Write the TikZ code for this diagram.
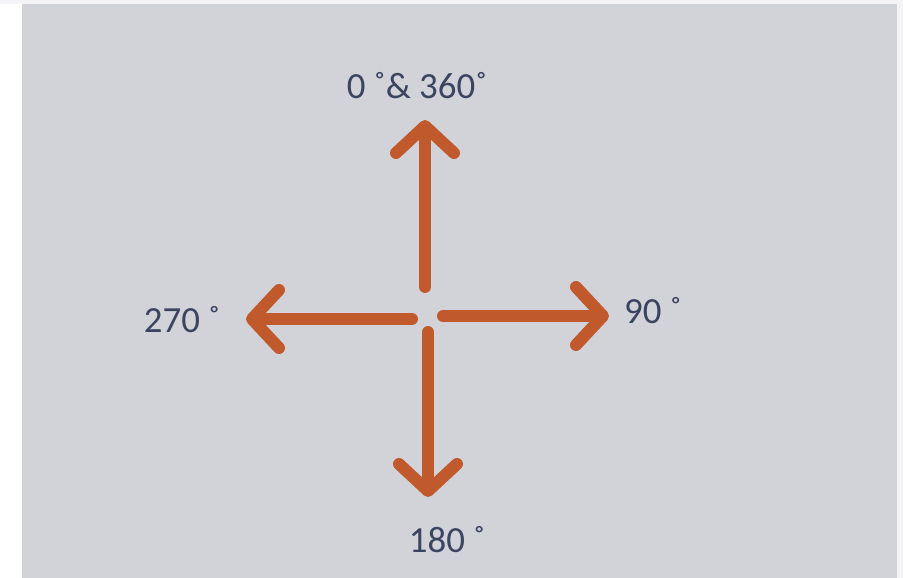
\documentclass[tikz,border=0pt]{standalone}
\usepackage{fontspec}
\setmainfont{Carlito}
\usetikzlibrary{
  arrows.meta,
  positioning
}
\definecolor{panelcolor}{RGB}{210, 211, 217}
\definecolor{edgecolor}{RGB}{244, 244, 246}
\definecolor{arrowcolor}{RGB}{192, 89, 44}
\definecolor{labelcolor}{RGB}{59, 69, 97}
\tikzset{
dirlabel/.style={
  anchor=base,
  inner sep=0pt,
  font=\fontsize{37}{44}\selectfont,
  text=labelcolor
},
dirarrow/.style={
  -{Straight Barb[length=27bp,width=58bp,line cap=round,line join=round]},
  line width=12bp,
  line cap=round,
  draw=arrowcolor
}
}
\begin{document}
\begin{tikzpicture}[x=1bp, y=-1bp]
      % page and panel
      \fill[edgecolor] (0,0) rectangle (903,578);
      \fill[white] (0,4) rectangle (22,578);
      \fill[panelcolor] (22,4) rectangle (897,578);
      \useasboundingbox (0,0) rectangle (903,578);

      % labels
      \node[dirlabel] (north) at (417,99) {0 ˚\& 360˚};
      \node[dirlabel] (west) at (182,332) {270 ˚};
      \node[dirlabel] (east) at (653,323) {90 ˚};
      \node[dirlabel] (south) at (447,552) {180 ˚};

      % arrow ends
      \coordinate (upstart) at (425,287);
      \coordinate (uptip) at (425,120);
      \coordinate (leftstart) at (412,319);
      \coordinate (lefttip) at (246,319);
      \coordinate (rightstart) at (443,316);
      \coordinate (righttip) at (609,316);
      \coordinate (downstart) at (428,332);
      \coordinate (downtip) at (428,497);

      \draw[dirarrow] (upstart) -- (uptip);
      \draw[dirarrow] (leftstart) -- (lefttip);
      \draw[dirarrow] (rightstart) -- (righttip);
      \draw[dirarrow] (downstart) -- (downtip);
    \end{tikzpicture}
\end{document}
